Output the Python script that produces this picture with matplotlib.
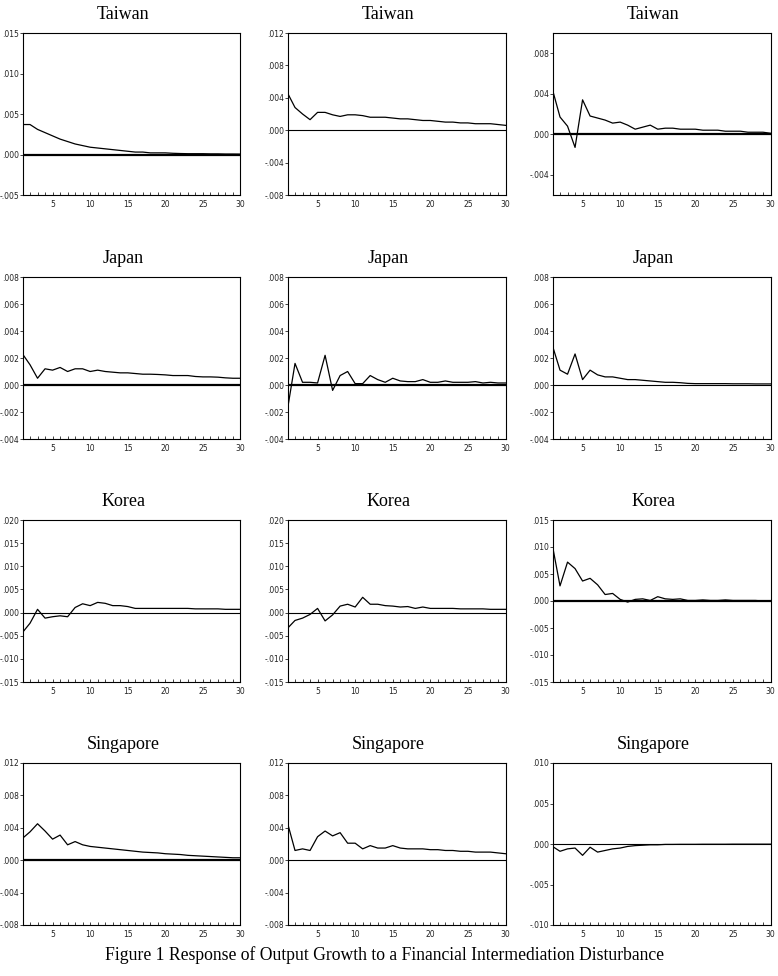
import numpy as np
import matplotlib
matplotlib.use("Agg")
from matplotlib import pyplot as plt
from matplotlib.ticker import MultipleLocator, FuncFormatter

periods = list(range(1, 31))

titles = ["Taiwan", "Taiwan", "Taiwan",
          "Japan", "Japan", "Japan",
          "Korea", "Korea", "Korea",
          "Singapore", "Singapore", "Singapore"]

# responses, periods 1..30
tw1 = [0.0037, 0.0037, 0.0031, 0.0027, 0.0023, 0.0019, 0.0016, 0.0013, 0.0011, 0.0009,
       0.0008, 0.0007, 0.0006, 0.0005, 0.0004, 0.0003, 0.0003, 0.0002, 0.0002, 0.0002,
       0.00015, 0.00012, 0.0001, 0.0001, 0.0001, 0.00008, 0.00008, 0.00006, 0.00006, 0.00005]
tw2 = [0.0046, 0.0028, 0.0020, 0.0013, 0.0022, 0.0022, 0.0019, 0.0017, 0.0019, 0.0019,
       0.0018, 0.0016, 0.0016, 0.0016, 0.0015, 0.0014, 0.0014, 0.0013, 0.0012, 0.0012,
       0.0011, 0.0010, 0.0010, 0.0009, 0.0009, 0.0008, 0.0008, 0.0008, 0.0007, 0.0006]
tw3 = [0.0044, 0.0017, 0.0008, -0.0013, 0.0034, 0.0018, 0.0016, 0.0014, 0.0011, 0.0012,
       0.0009, 0.0005, 0.0007, 0.0009, 0.0005, 0.0006, 0.0006, 0.0005, 0.0005, 0.0005,
       0.0004, 0.0004, 0.0004, 0.0003, 0.0003, 0.0003, 0.0002, 0.0002, 0.0002, 0.0001]
jp1 = [0.0023, 0.0015, 0.0005, 0.0012, 0.0011, 0.0013, 0.0010, 0.0012, 0.0012, 0.0010,
       0.0011, 0.0010, 0.00095, 0.0009, 0.0009, 0.00085, 0.0008, 0.0008, 0.00078, 0.00075,
       0.0007, 0.0007, 0.0007, 0.00063, 0.0006, 0.0006, 0.00058, 0.00053, 0.0005, 0.0005]
jp2 = [-0.0018, 0.0016, 0.0002, 0.0002, 0.00015, 0.0022, -0.0004, 0.0007, 0.0010, 0.0001,
       0.0001, 0.0007, 0.0004, 0.0002, 0.0005, 0.0003, 0.00025, 0.00025, 0.0004, 0.0002,
       0.0002, 0.0003, 0.0002, 0.0002, 0.0002, 0.00025, 0.00015, 0.0002, 0.00015, 0.00015]
jp3 = [0.0029, 0.0011, 0.0008, 0.0023, 0.0004, 0.0011, 0.00075, 0.0006, 0.0006, 0.0005,
       0.0004, 0.0004, 0.00035, 0.0003, 0.00025, 0.0002, 0.0002, 0.00017, 0.00012, 0.0001,
       0.0001, 0.0001, 0.0001, 0.0001, 0.00009, 0.00009, 0.00009, 0.00008, 0.00008, 0.00008]
kr1 = [-0.0043, -0.0023, 0.0007, -0.0012, -0.0009, -0.0007, -0.0009, 0.0011, 0.0019, 0.0015,
       0.0022, 0.0020, 0.0015, 0.0015, 0.0013, 0.0009, 0.0009, 0.0009, 0.0009, 0.0009,
       0.0009, 0.0009, 0.0009, 0.0008, 0.0008, 0.0008, 0.0008, 0.0007, 0.0007, 0.0007]
kr2 = [-0.0034, -0.0017, -0.0012, -0.0004, 0.0009, -0.0018, -0.0005, 0.0014, 0.0018, 0.0012,
       0.0033, 0.0018, 0.0018, 0.0015, 0.0014, 0.0012, 0.0013, 0.0009, 0.0012, 0.0009,
       0.0009, 0.0009, 0.0009, 0.0008, 0.0008, 0.0008, 0.0008, 0.0007, 0.0007, 0.0007]
kr3 = [0.0102, 0.0028, 0.0072, 0.0060, 0.0037, 0.0042, 0.0030, 0.0012, 0.0014, 0.0003,
       -0.0002, 0.0003, 0.0004, 0.0001, 0.0008, 0.0004, 0.0003, 0.0004, 0.0001, 0.0001,
       0.0002, 0.0001, 0.0001, 0.0002, 0.0001, 0.0001, 0.0001, 0.0001, 0.0, 0.0]
sg1 = [0.0027, 0.0035, 0.0045, 0.0036, 0.0026, 0.0031, 0.0019, 0.0023, 0.0019, 0.0017,
       0.0016, 0.0015, 0.0014, 0.0013, 0.0012, 0.0011, 0.0010, 0.00095, 0.0009, 0.0008,
       0.00075, 0.0007, 0.0006, 0.00055, 0.0005, 0.00045, 0.0004, 0.00035, 0.0003, 0.0003]
sg2 = [0.0046, 0.0012, 0.0014, 0.0012, 0.0029, 0.0036, 0.0030, 0.0034, 0.0021, 0.0021,
       0.0014, 0.0018, 0.0015, 0.0015, 0.0018, 0.0015, 0.0014, 0.0014, 0.0014, 0.0013,
       0.0013, 0.0012, 0.0012, 0.0011, 0.0011, 0.0010, 0.0010, 0.0010, 0.0009, 0.0008]
sg3 = [-0.0003, -0.0009, -0.0006, -0.0005, -0.0014, -0.0004, -0.0010, -0.0008, -0.0006, -0.0005,
       -0.0003, -0.0002, -0.00015, -0.0001, -0.0001, -0.00005, -0.00005, -0.00004, -0.00004, -0.00004,
       -0.00003, -0.00003, -0.00003, -0.00003, -0.00002, -0.00002, -0.00002, -0.00002, -0.00002, -0.00002]

series = [tw1, tw2, tw3, jp1, jp2, jp3, kr1, kr2, kr3, sg1, sg2, sg3]

# y range (low, high, step) of each panel
ylims = [(-0.005, 0.015, 0.005), (-0.008, 0.012, 0.004), (-0.006, 0.010, 0.004),
         (-0.004, 0.008, 0.002), (-0.004, 0.008, 0.002), (-0.004, 0.008, 0.002),
         (-0.015, 0.020, 0.005), (-0.015, 0.020, 0.005), (-0.015, 0.015, 0.005),
         (-0.008, 0.012, 0.004), (-0.008, 0.012, 0.004), (-0.010, 0.010, 0.005)]
zero_bold = [True, False, True, True, True, False, False, False, True, True, False, False]

caption = "Figure 1 Response of Output Growth to a Financial Intermediation Disturbance"


def fmt(v, pos):
    if abs(v) < 1e-9:
        return ".000"
    return ("%.3f" % v).replace("0.", ".", 1)


W, H = 778, 976
fig = plt.figure(figsize=(W / 100, H / 100), dpi=100)

lefts = [22.5, 287.5, 552.5]
tops = [33, 277, 520, 763]
aw, ah = 218, 162

for i, ys in enumerate(series):
    r, c = divmod(i, 3)
    ax = fig.add_axes([lefts[c] / W, 1 - (tops[r] + ah) / H, aw / W, ah / H])
    lo, hi, step = ylims[i]
    ax.axhline(0, color="black", lw=1.6 if zero_bold[i] else 0.8, zorder=1)
    ax.plot(periods, ys, color="black", lw=0.9, zorder=2)
    ax.set_xlim(1, 30)
    ax.set_ylim(lo, hi)
    ax.xaxis.set_major_locator(MultipleLocator(5))
    ax.xaxis.set_minor_locator(MultipleLocator(1))
    ax.yaxis.set_major_locator(MultipleLocator(step))
    ax.yaxis.set_major_formatter(FuncFormatter(fmt))
    ax.tick_params(axis="x", which="both", direction="in", length=2.5, width=0.6,
                   labelsize=5.5, pad=3.5, colors="#222222")
    ax.tick_params(axis="y", which="major", direction="out", length=2, width=0.6,
                   labelsize=5.5, pad=0.5, colors="#222222")
    for sp in ax.spines.values():
        sp.set_linewidth(0.8)
    ax.set_title(titles[i], family="Liberation Serif", fontsize=13, pad=10, x=0.463)

fig.text(384.5 / W, 1 - 955 / H, caption, ha="center", va="center",
         family="Liberation Serif", fontsize=12.7)

fig.savefig("out.png", dpi=100)
